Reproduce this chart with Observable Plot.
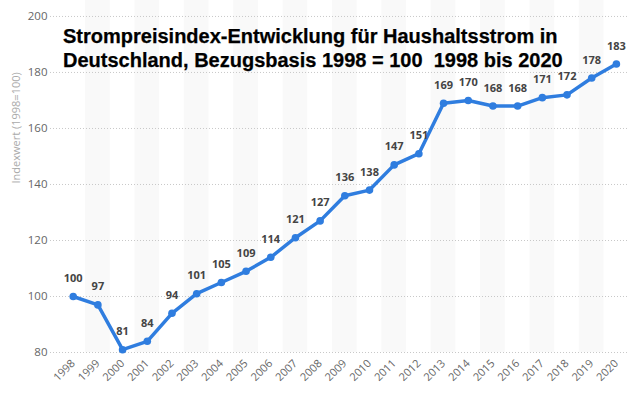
<!DOCTYPE html>
<html><head><meta charset="utf-8">
<script src="https://cdn.jsdelivr.net/npm/d3@7"></script>
<script src="https://cdn.jsdelivr.net/npm/@observablehq/plot@0.6"></script>
<style>
body{margin:0;background:#fff;}
#wrap{position:relative;width:640px;height:397px;}
#title{position:absolute;left:63px;top:24px;font:bold 20px "Liberation Sans",Arial,sans-serif;line-height:24px;color:#000;white-space:nowrap;-webkit-text-stroke:0.25px #000;}
</style></head><body>
<div id="wrap"><div id="chart"></div><div id="title">Strompreisindex-Entwicklung für Haushaltsstrom in<br>Deutschland, Bezugsbasis 1998 = 100&nbsp; 1998 bis 2020</div></div>
<script>
const years = [1998,1999,2000,2001,2002,2003,2004,2005,2006,2007,2008,2009,2010,2011,2012,2013,2014,2015,2016,2017,2018,2019,2020];
const values = [100,97,81,84,94,101,105,109,114,121,127,136,138,147,151,169,170,168,168,171,172,178,183];
const yTicks = [80,100,120,140,160,180,200];
const yLabel = "Indexwert (1998=100)";
const data = years.map((year,i)=>({year, value: values[i]}));
const bandYears = years.filter((y,i)=> i%2===1);
const blue = "#2f7ddf";
const chart = Plot.plot({
  width:640, height:397, marginLeft:50, marginRight:13, marginTop:0, marginBottom:45,
  x:{domain:[1997.08,2020.45]},
  y:{domain:[80,205.7]},
  style:{fontFamily:"'Open Sans', sans-serif", background:"#fff"},
  marks:[
    Plot.rect(bandYears, {x1: d=>d-0.5, x2: d=>d+0.5, fill:"#f9f9f9"}),
    Plot.ruleY(yTicks, {stroke:"#c8c8c8", strokeDasharray:"1,2"}),
    Plot.axisY({ticks: yTicks, tickSize:0, tickPadding:3, fontSize:11.5, color:"#666", label:null}),
    Plot.axisX({ticks: years, tickFormat:"d", tickRotate:-45, tickSize:0, tickPadding:9, fontSize:11, color:"#666", label:null}),
    Plot.line(data, {x:"year", y:"value", stroke:blue, strokeWidth:3.5}),
    Plot.dot(data, {x:"year", y:"value", r:3.8, fill:blue}),
    Plot.text(data, {x:"year", y:"value", text:d=>String(d.value), dy:-18, fontWeight:"bold", fontSize:11, fill:"#444"}),
    Plot.text([yLabel], {text:d=>d, frameAnchor:"left", rotate:-90, dx:-34, dy:7, fill:"#aaa", fontSize:11})
  ]
});
document.getElementById("chart").append(chart);
</script>
</body></html>
